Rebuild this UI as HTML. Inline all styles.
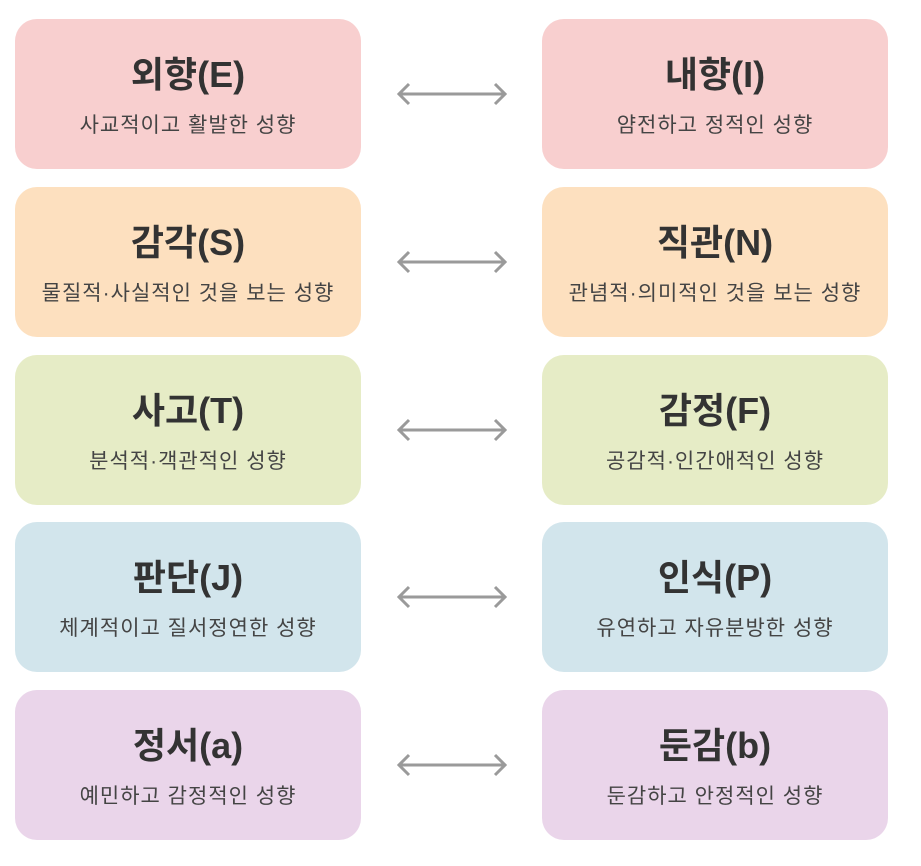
<!DOCTYPE html>
<html><head><meta charset="utf-8"><style>
body{margin:0;width:921px;height:866px;background:#fff;position:relative;font-family:"Liberation Sans","Noto Sans CJK KR",sans-serif;overflow:hidden}
.b{position:absolute;width:346px;height:150px;border-radius:22px;text-align:center}
.t{position:absolute;left:0;right:0;top:36px;font-size:36px;font-weight:bold;color:#333;line-height:40px}
.s{position:absolute;left:0;right:0;top:94px;font-size:21px;color:#444;line-height:26px;letter-spacing:1px}
svg{position:absolute;left:0;top:0}
</style></head><body>
<div class="b" style="left:15px;top:19px;background:#f8cfcf"><div class="t">외향(E)</div><div class="s">사교적이고 활발한 성향</div></div>
<div class="b" style="left:542px;top:19px;background:#f8cfcf"><div class="t">내향(I)</div><div class="s">얌전하고 정적인 성향</div></div>
<div class="b" style="left:15px;top:187px;background:#fde0bf"><div class="t">감각(S)</div><div class="s">물질적·사실적인 것을 보는 성향</div></div>
<div class="b" style="left:542px;top:187px;background:#fde0bf"><div class="t">직관(N)</div><div class="s">관념적·의미적인 것을 보는 성향</div></div>
<div class="b" style="left:15px;top:355px;background:#e6ecc6"><div class="t">사고(T)</div><div class="s">분석적·객관적인 성향</div></div>
<div class="b" style="left:542px;top:355px;background:#e6ecc6"><div class="t">감정(F)</div><div class="s">공감적·인간애적인 성향</div></div>
<div class="b" style="left:15px;top:522px;background:#d2e5ec"><div class="t">판단(J)</div><div class="s">체계적이고 질서정연한 성향</div></div>
<div class="b" style="left:542px;top:522px;background:#d2e5ec"><div class="t">인식(P)</div><div class="s">유연하고 자유분방한 성향</div></div>
<div class="b" style="left:15px;top:690px;background:#ead5ea"><div class="t">정서(a)</div><div class="s">예민하고 감정적인 성향</div></div>
<div class="b" style="left:542px;top:690px;background:#ead5ea"><div class="t">둔감(b)</div><div class="s">둔감하고 안정적인 성향</div></div>
<svg width="921" height="866" fill="none" stroke="#9a9a9a" stroke-width="3">
<g id="a"><path d="M399 94H505M409 84L399 94L409 104M495 84L505 94L495 104"/></g>
<use href="#a" y="168"/><use href="#a" y="336"/><use href="#a" y="503"/><use href="#a" y="671"/>
</svg>
</body></html>
